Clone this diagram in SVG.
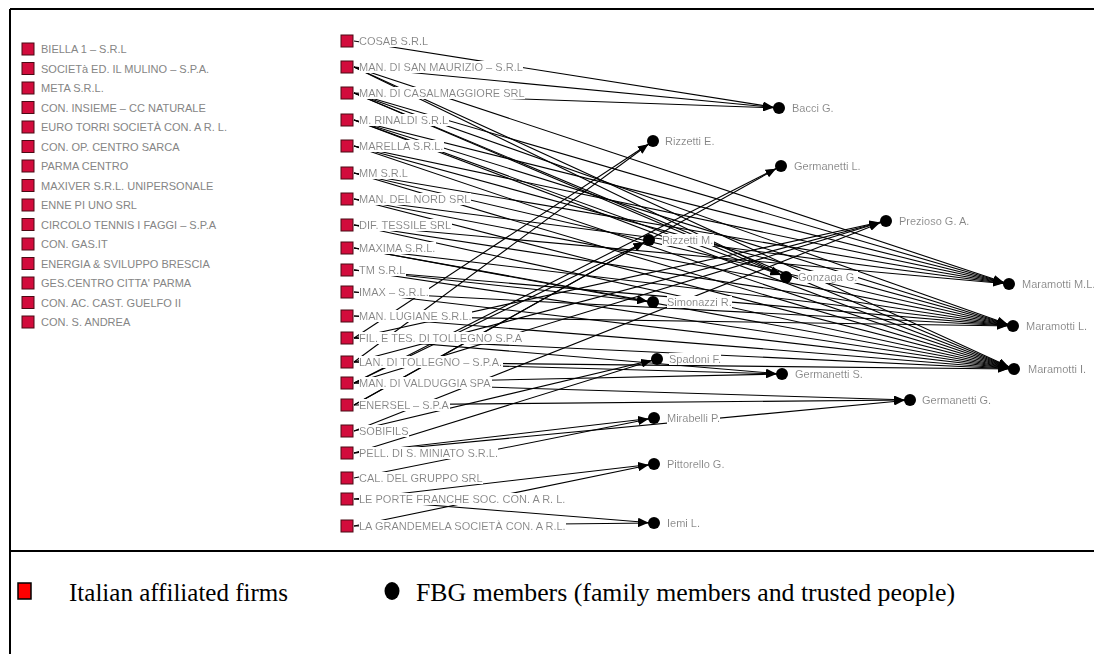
<svg xmlns="http://www.w3.org/2000/svg" width="1094" height="654" viewBox="0 0 1094 654">
<style>
.firm rect{fill:#d20c3c;stroke:#4a0a14;stroke-width:1}
.lbl{font-family:"Liberation Sans",Arial,sans-serif;font-size:11px;fill:#858585}
.bg{filter:url(#wbg)}
.e{stroke:#000;stroke-width:1.1;fill:none;marker-end:url(#arr)}
.p circle{fill:#000}
.frame{stroke:#000;stroke-width:2;fill:none}
.leg{font-family:"Liberation Serif","Times New Roman",serif;font-size:25px;fill:#000}
</style>
<defs>
<marker id="arr" markerUnits="userSpaceOnUse" viewBox="0 0 20 8" markerWidth="20" markerHeight="8" refX="16" refY="4" orient="auto"><path d="M0,0 L10,4 L0,8 z" fill="#000"/></marker>
<filter id="wbg" x="0" y="0" width="1" height="1"><feFlood flood-color="#fff"/><feComposite in="SourceGraphic"/></filter>
</defs>
<rect x="0" y="0" width="1094" height="654" fill="#fff"/>
<g id="frame">
<line class="frame" x1="10" y1="9" x2="1094" y2="9"/>
<line class="frame" x1="10" y1="9" x2="10" y2="654"/>
<line class="frame" x1="10" y1="551" x2="1094" y2="551"/>
</g>
<g id="isolated-firms">
<g class="firm" id="f-biella"><rect x="22" y="43" width="12" height="12"/><text class="lbl" x="41" y="53">BIELLA 1 – S.R.L</text></g>
<g class="firm" id="f-mulino"><rect x="22" y="62.5" width="12" height="12"/><text class="lbl" x="41" y="72.5">SOCIETà ED. IL MULINO – S.P.A.</text></g>
<g class="firm" id="f-meta"><rect x="22" y="82" width="12" height="12"/><text class="lbl" x="41" y="92">META S.R.L.</text></g>
<g class="firm" id="f-insieme"><rect x="22" y="101.5" width="12" height="12"/><text class="lbl" x="41" y="111.5">CON. INSIEME – CC NATURALE</text></g>
<g class="firm" id="f-eurotorri"><rect x="22" y="121" width="12" height="12"/><text class="lbl" x="41" y="131">EURO TORRI SOCIETÀ CON. A R. L.</text></g>
<g class="firm" id="f-sarca"><rect x="22" y="140.5" width="12" height="12"/><text class="lbl" x="41" y="150.5">CON. OP. CENTRO SARCA</text></g>
<g class="firm" id="f-parma"><rect x="22" y="160" width="12" height="12"/><text class="lbl" x="41" y="170">PARMA CENTRO</text></g>
<g class="firm" id="f-maxiver"><rect x="22" y="179.5" width="12" height="12"/><text class="lbl" x="41" y="189.5">MAXIVER S.R.L. UNIPERSONALE</text></g>
<g class="firm" id="f-enne"><rect x="22" y="199" width="12" height="12"/><text class="lbl" x="41" y="209">ENNE PI UNO SRL</text></g>
<g class="firm" id="f-circolo"><rect x="22" y="218.5" width="12" height="12"/><text class="lbl" x="41" y="228.5">CIRCOLO TENNIS I FAGGI – S.P.A</text></g>
<g class="firm" id="f-gas"><rect x="22" y="238" width="12" height="12"/><text class="lbl" x="41" y="248">CON. GAS.IT</text></g>
<g class="firm" id="f-energia"><rect x="22" y="257.5" width="12" height="12"/><text class="lbl" x="41" y="267.5">ENERGIA &amp; SVILUPPO BRESCIA</text></g>
<g class="firm" id="f-ges"><rect x="22" y="277" width="12" height="12"/><text class="lbl" x="41" y="287">GES.CENTRO CITTA' PARMA</text></g>
<g class="firm" id="f-guelfo"><rect x="22" y="296.5" width="12" height="12"/><text class="lbl" x="41" y="306.5">CON. AC. CAST. GUELFO II</text></g>
<g class="firm" id="f-andrea"><rect x="22" y="316" width="12" height="12"/><text class="lbl" x="41" y="326">CON. S. ANDREA</text></g>
</g>
<g id="connectors">
<line class="e" x1="354" y1="41" x2="779" y2="108"/>
<line class="e" x1="354" y1="67" x2="779" y2="108"/>
<line class="e" x1="354" y1="93" x2="779" y2="108"/>
<line class="e" x1="354" y1="67" x2="786" y2="277"/>
<line class="e" x1="354" y1="93" x2="786" y2="277"/>
<line class="e" x1="354" y1="120" x2="786" y2="277"/>
<line class="e" x1="354" y1="67" x2="1009" y2="284"/>
<line class="e" x1="354" y1="67" x2="1014" y2="369"/>
<line class="e" x1="354" y1="93" x2="1009" y2="284"/>
<line class="e" x1="354" y1="93" x2="1013" y2="326"/>
<line class="e" x1="354" y1="93" x2="1014" y2="369"/>
<line class="e" x1="354" y1="120" x2="1009" y2="284"/>
<line class="e" x1="354" y1="120" x2="1013" y2="326"/>
<line class="e" x1="354" y1="120" x2="1014" y2="369"/>
<line class="e" x1="354" y1="146" x2="1009" y2="284"/>
<line class="e" x1="354" y1="146" x2="1013" y2="326"/>
<line class="e" x1="354" y1="146" x2="1014" y2="369"/>
<line class="e" x1="354" y1="173" x2="1009" y2="284"/>
<line class="e" x1="354" y1="173" x2="1013" y2="326"/>
<line class="e" x1="354" y1="173" x2="1014" y2="369"/>
<line class="e" x1="354" y1="199" x2="1009" y2="284"/>
<line class="e" x1="354" y1="199" x2="1013" y2="326"/>
<line class="e" x1="354" y1="199" x2="1014" y2="369"/>
<line class="e" x1="354" y1="225" x2="1009" y2="284"/>
<line class="e" x1="354" y1="225" x2="1013" y2="326"/>
<line class="e" x1="354" y1="225" x2="1014" y2="369"/>
<line class="e" x1="354" y1="248" x2="1013" y2="326"/>
<line class="e" x1="354" y1="248" x2="1014" y2="369"/>
<line class="e" x1="354" y1="248" x2="653" y2="302"/>
<line class="e" x1="354" y1="270" x2="1013" y2="326"/>
<line class="e" x1="354" y1="270" x2="1014" y2="369"/>
<line class="e" x1="354" y1="270" x2="653" y2="302"/>
<line class="e" x1="354" y1="292" x2="1013" y2="326"/>
<line class="e" x1="354" y1="292" x2="1014" y2="369"/>
<line class="e" x1="354" y1="316" x2="1013" y2="326"/>
<line class="e" x1="354" y1="316" x2="1014" y2="369"/>
<line class="e" x1="354" y1="338" x2="653" y2="141"/>
<line class="e" x1="354" y1="338" x2="885" y2="221"/>
<line class="e" x1="354" y1="338" x2="782" y2="374"/>
<line class="e" x1="354" y1="338" x2="1014" y2="369"/>
<line class="e" x1="354" y1="362" x2="653" y2="141"/>
<line class="e" x1="354" y1="362" x2="885" y2="221"/>
<line class="e" x1="354" y1="362" x2="782" y2="374"/>
<line class="e" x1="354" y1="362" x2="1014" y2="369"/>
<line class="e" x1="354" y1="383" x2="781" y2="166"/>
<line class="e" x1="354" y1="383" x2="885" y2="221"/>
<line class="e" x1="354" y1="383" x2="782" y2="374"/>
<line class="e" x1="354" y1="383" x2="910" y2="400"/>
<line class="e" x1="354" y1="383" x2="649" y2="240"/>
<line class="e" x1="354" y1="405" x2="781" y2="166"/>
<line class="e" x1="354" y1="405" x2="910" y2="400"/>
<line class="e" x1="354" y1="405" x2="649" y2="240"/>
<line class="e" x1="354" y1="431" x2="885" y2="221"/>
<line class="e" x1="354" y1="431" x2="657" y2="359"/>
<line class="e" x1="354" y1="453" x2="657" y2="359"/>
<line class="e" x1="354" y1="453" x2="654" y2="418"/>
<line class="e" x1="354" y1="453" x2="910" y2="400"/>
<line class="e" x1="354" y1="478" x2="654" y2="418"/>
<line class="e" x1="354" y1="499" x2="654" y2="464"/>
<line class="e" x1="354" y1="499" x2="654" y2="523"/>
<line class="e" x1="354" y1="526" x2="654" y2="464"/>
<line class="e" x1="354" y1="526" x2="654" y2="523"/>
</g>
<g id="firms">
<g class="firm" id="f-cosab"><rect x="341" y="35" width="12" height="12"/><text class="lbl bg" x="359" y="45">COSAB S.R.L</text></g>
<g class="firm" id="f-sanmaurizio"><rect x="341" y="61" width="12" height="12"/><text class="lbl bg" x="359" y="71">MAN. DI SAN MAURIZIO – S.R.L</text></g>
<g class="firm" id="f-casalmaggiore"><rect x="341" y="87" width="12" height="12"/><text class="lbl bg" x="359" y="97">MAN. DI CASALMAGGIORE SRL</text></g>
<g class="firm" id="f-rinaldi"><rect x="341" y="114" width="12" height="12"/><text class="lbl bg" x="359" y="124">M. RINALDI S.R.L</text></g>
<g class="firm" id="f-marella"><rect x="341" y="140" width="12" height="12"/><text class="lbl bg" x="359" y="150">MARELLA S.R.L.</text></g>
<g class="firm" id="f-mm"><rect x="341" y="167" width="12" height="12"/><text class="lbl bg" x="359" y="177">MM S.R.L</text></g>
<g class="firm" id="f-nord"><rect x="341" y="193" width="12" height="12"/><text class="lbl bg" x="359" y="203">MAN. DEL NORD SRL</text></g>
<g class="firm" id="f-dif"><rect x="341" y="219" width="12" height="12"/><text class="lbl bg" x="359" y="229">DIF. TESSILE SRL</text></g>
<g class="firm" id="f-maxima"><rect x="341" y="242" width="12" height="12"/><text class="lbl bg" x="359" y="252">MAXIMA S.R.L.</text></g>
<g class="firm" id="f-tm"><rect x="341" y="264" width="12" height="12"/><text class="lbl bg" x="359" y="274">TM S.R.L</text></g>
<g class="firm" id="f-imax"><rect x="341" y="286" width="12" height="12"/><text class="lbl bg" x="359" y="296">IMAX – S.R.L.</text></g>
<g class="firm" id="f-lugiane"><rect x="341" y="310" width="12" height="12"/><text class="lbl bg" x="359" y="320">MAN. LUGIANE S.R.L.</text></g>
<g class="firm" id="f-fil"><rect x="341" y="332" width="12" height="12"/><text class="lbl bg" x="359" y="342">FIL. E TES. DI TOLLEGNO S.P.A</text></g>
<g class="firm" id="f-lan"><rect x="341" y="356" width="12" height="12"/><text class="lbl bg" x="359" y="366">LAN. DI TOLLEGNO – S.P.A.</text></g>
<g class="firm" id="f-valduggia"><rect x="341" y="377" width="12" height="12"/><text class="lbl bg" x="359" y="387">MAN. DI VALDUGGIA SPA</text></g>
<g class="firm" id="f-enersel"><rect x="341" y="399" width="12" height="12"/><text class="lbl bg" x="359" y="409">ENERSEL – S.P.A</text></g>
<g class="firm" id="f-sobifils"><rect x="341" y="425" width="12" height="12"/><text class="lbl bg" x="359" y="435">SOBIFILS</text></g>
<g class="firm" id="f-pell"><rect x="341" y="447" width="12" height="12"/><text class="lbl bg" x="359" y="457">PELL. DI S. MINIATO S.R.L.</text></g>
<g class="firm" id="f-cal"><rect x="341" y="472" width="12" height="12"/><text class="lbl bg" x="359" y="482">CAL. DEL GRUPPO SRL</text></g>
<g class="firm" id="f-porte"><rect x="341" y="493" width="12" height="12"/><text class="lbl bg" x="359" y="503">LE PORTE FRANCHE SOC. CON. A R. L.</text></g>
<g class="firm" id="f-grandemela"><rect x="341" y="520" width="12" height="12"/><text class="lbl bg" x="359" y="530">LA GRANDEMELA SOCIETÀ CON. A R.L.</text></g>
</g>
<g id="people">
<g class="p" id="p-bacci"><circle cx="779" cy="108" r="6"/><text class="lbl bg" x="792" y="112">Bacci G.</text></g>
<g class="p" id="p-rizzettie"><circle cx="653" cy="141" r="6"/><text class="lbl bg" x="665" y="145">Rizzetti E.</text></g>
<g class="p" id="p-germanettil"><circle cx="781" cy="166" r="6"/><text class="lbl bg" x="794" y="170">Germanetti L.</text></g>
<g class="p" id="p-prezioso"><circle cx="886" cy="221" r="6"/><text class="lbl bg" x="899" y="225">Prezioso G. A.</text></g>
<g class="p" id="p-rizzettim"><circle cx="649" cy="240" r="6"/><text class="lbl bg" x="662" y="244">Rizzetti M.</text></g>
<g class="p" id="p-gonzaga"><circle cx="786" cy="277" r="6"/><text class="lbl bg" x="798" y="281">Gonzaga G.</text></g>
<g class="p" id="p-simonazzi"><circle cx="653" cy="302" r="6"/><text class="lbl bg" x="667" y="306">Simonazzi  R.</text></g>
<g class="p" id="p-spadoni"><circle cx="657" cy="359" r="6"/><text class="lbl bg" x="669" y="363">Spadoni F.</text></g>
<g class="p" id="p-germanettis"><circle cx="782" cy="374" r="6"/><text class="lbl bg" x="795" y="378">Germanetti S.</text></g>
<g class="p" id="p-mirabelli"><circle cx="654" cy="418" r="6"/><text class="lbl bg" x="667" y="422">Mirabelli P.</text></g>
<g class="p" id="p-pittorello"><circle cx="654" cy="464" r="6"/><text class="lbl bg" x="667" y="468">Pittorello G.</text></g>
<g class="p" id="p-iemi"><circle cx="654" cy="523" r="6"/><text class="lbl bg" x="667" y="527">Iemi L.</text></g>
<g class="p" id="p-maramottim"><circle cx="1009" cy="284" r="6"/><text class="lbl bg" x="1022" y="288">Maramotti M.L.</text></g>
<g class="p" id="p-maramottil"><circle cx="1013" cy="326" r="6"/><text class="lbl bg" x="1026" y="330">Maramotti L.</text></g>
<g class="p" id="p-maramottii"><circle cx="1014" cy="369" r="6"/><text class="lbl bg" x="1028" y="373">Maramotti I.</text></g>
<g class="p" id="p-germanettig"><circle cx="910" cy="400" r="6"/><text class="lbl bg" x="922" y="404">Germanetti G.</text></g>
</g>
<g id="legend">
<rect x="18" y="583" width="13" height="16" fill="#ff0000" stroke="#000" stroke-width="1.5"/>
<text class="leg" x="69" y="601" textLength="219" lengthAdjust="spacingAndGlyphs">Italian affiliated firms</text>
<ellipse cx="392" cy="591" rx="7.5" ry="9" fill="#000"/>
<text class="leg" x="416" y="601" textLength="539" lengthAdjust="spacingAndGlyphs">FBG members (family members and trusted people)</text>
</g>
</svg>
